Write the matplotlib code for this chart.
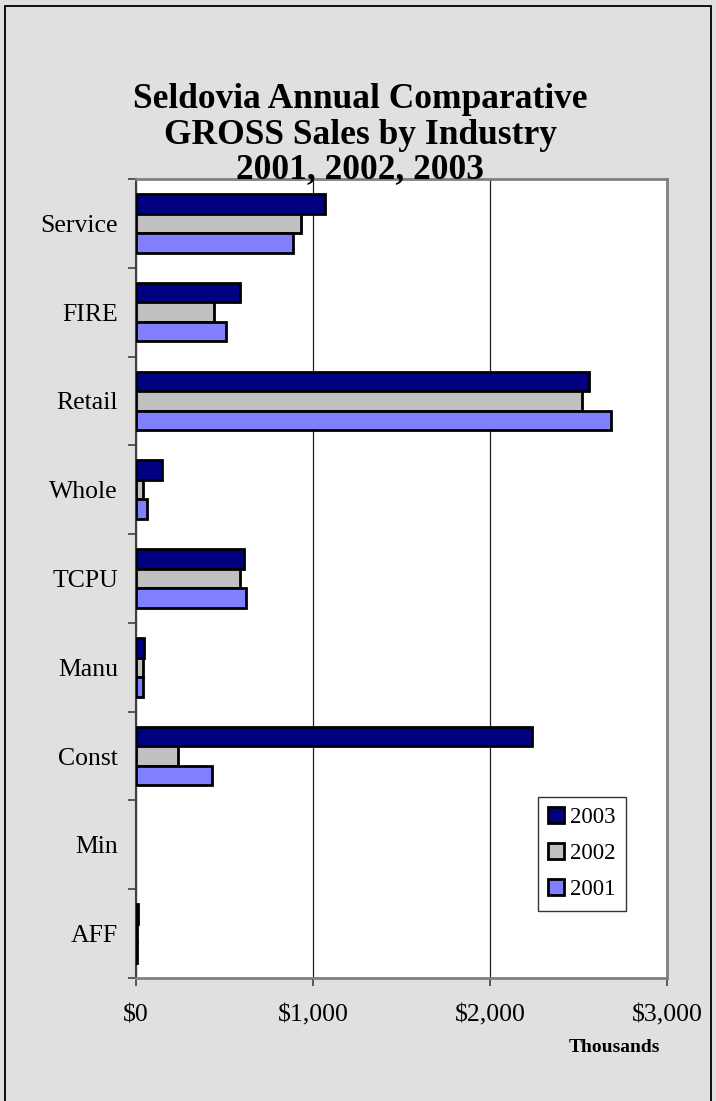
import matplotlib.pyplot as plt
import numpy as np
from matplotlib.patches import Rectangle
from matplotlib.ticker import FuncFormatter

plt.rcParams['font.family'] = ['Liberation Serif', 'DejaVu Serif']

# values in thousands of dollars, bottom category first
categories = ['AFF', 'Min', 'Const', 'Manu', 'TCPU', 'Whole', 'Retail', 'FIRE', 'Service']
sales_2003 = [10, 0, 2235, 45, 611, 145, 2557, 590, 1066]
sales_2002 = [5, 0, 235, 40, 587, 41, 2519, 442, 934]
sales_2001 = [5, 0, 430, 38, 619, 60, 2683, 508, 887]
years = ['2003', '2002', '2001']
colors = ['#000080', '#C0C0C0', '#8080FF']

fig = plt.figure(figsize=(7.16, 11.01), dpi=100, facecolor='#E0E0E0')
ax = fig.add_axes([136 / 716, 1 - 978 / 1101, 531 / 716, 799 / 1101])
ax.set_facecolor('white')

y = np.arange(len(categories))
h = 0.22
for series, off, col, lab in zip([sales_2003, sales_2002, sales_2001],
                                 [h, 0, -h], colors, years):
    lw = [2.0 if v > 0 else 0 for v in series]
    ax.barh(y + off, series, height=h, color=col, edgecolor='black',
            linewidth=lw, label=lab, zorder=3)

ax.set_xlim(0, 3000)
ax.set_ylim(-0.5, len(categories) - 0.5)
ax.set_xticks([0, 1000, 2000, 3000])
ax.xaxis.set_major_formatter(FuncFormatter(lambda v, p: f'${v:,.0f}'))
ax.tick_params(axis='x', direction='out', length=6, width=1.2, color='#404040',
               labelsize=18.5, pad=13)
ax.set_yticks(y)
ax.set_yticklabels(categories)
ax.set_yticks(np.arange(-0.5, len(categories), 1), minor=True)
ax.tick_params(axis='y', which='major', length=0, labelsize=18.5, pad=13)
ax.tick_params(axis='y', which='minor', direction='out', length=6, width=1.2,
               color='#404040')
ax.grid(axis='x', color='#202020', linewidth=0.9, zorder=0)

for side in ['top', 'right', 'bottom']:
    ax.spines[side].set_color('#808080')
    ax.spines[side].set_linewidth(2)
ax.spines['left'].set_color('#404040')
ax.spines['left'].set_linewidth(1.5)

leg = ax.legend(loc='upper left', bbox_to_anchor=(538 / 716, 1 - 797 / 1101),
                bbox_transform=fig.transFigure, fontsize=16.5, frameon=True,
                fancybox=False, edgecolor='black', handlelength=0.7,
                handleheight=0.7, handletextpad=0.25, labelspacing=0.65,
                borderpad=0.45, borderaxespad=0)
leg.get_frame().set_linewidth(1.0)

fig.text(0.503, 1 - 100 / 1101, 'Seldovia Annual Comparative', ha='center',
         va='center', fontsize=25.5, fontweight='bold')
fig.text(0.503, 1 - 135 / 1101, 'GROSS Sales by Industry', ha='center',
         va='center', fontsize=25.5, fontweight='bold')
fig.text(0.503, 1 - 170 / 1101, '2001, 2002, 2003', ha='center',
         va='center', fontsize=25.5, fontweight='bold')
fig.text(614 / 716, 1 - 1047 / 1101, 'Thousands', ha='center', va='center',
         fontsize=14, fontweight='bold')

fig.patches.append(Rectangle((5 / 716, -0.01), 706 / 716, 1.01 - 6 / 1101,
                             transform=fig.transFigure, fill=False,
                             edgecolor='black', linewidth=1.3))

fig.savefig('out.png', dpi=100, facecolor=fig.get_facecolor())
